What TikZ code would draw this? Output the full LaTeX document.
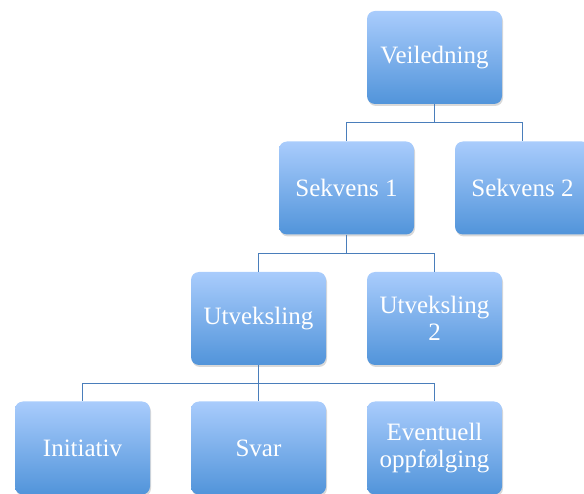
\documentclass[tikz,border=0pt]{standalone}
\usepackage{fontspec}
\setmainfont{Liberation Serif}
\usepackage{xcolor}
\usepackage{tikz}
\usetikzlibrary{positioning, shadows}
\definecolor{boxtop}{HTML}{A9CCFC}
\definecolor{boxbot}{HTML}{5194DA}
\definecolor{linkblue}{HTML}{4A7EBB}
\tikzstyle{box} = [rectangle, rounded corners=8pt, minimum width=135pt, minimum height=93pt, text centered, align=center, top color=boxtop, bottom color=boxbot, draw=none, text=white, font=\fontsize{25}{27}\selectfont, drop shadow={opacity=0.3, shadow xshift=1pt, shadow yshift=-2pt}]
\tikzstyle{link} = [draw=linkblue, line width=1.3pt]

\begin{document}
\begin{tikzpicture}[x=1pt, y=-1pt, node distance=176pt]
    \useasboundingbox (0,0) rectangle (584,494);
    % Nodes
    \node [box] (veil) at (434.5,57.5) {Veiledning};
    \node [box, below of=veil, node distance=130.5pt, xshift=-88pt] (sek1) {Sekvens 1};
    \node [box, right of=sek1] (sek2) {Sekvens 2};
    \node [box, below of=sek1, node distance=130.5pt, xshift=-88pt] (utv1) {Utveksling};
    \node [box, right of=utv1] (utv2) {Utveksling\\2};
    \node [box, below of=utv1, node distance=129.5pt, xshift=-176pt] (init) {Initiativ};
    \node [box, right of=init] (svar) {Svar};
    \node [box, right of=svar] (oppf) {Eventuell\\oppfølging};

    % Edges
    \path [link] (veil.south) -- ++(0,18.5) -| (sek1.north);
    \path [link] (veil.south) -- ++(0,18.5) -| (sek2.north);
    \path [link] (sek1.south) -- ++(0,18.5) -| (utv1.north);
    \path [link] (sek1.south) -- ++(0,18.5) -| (utv2.north);
    \path [link] (utv1.south) -- ++(0,18.5) -| (init.north);
    \path [link] (utv1.south) -- ++(0,18.5) -| (svar.north);
    \path [link] (utv1.south) -- ++(0,18.5) -| (oppf.north);
\end{tikzpicture}
\end{document}
